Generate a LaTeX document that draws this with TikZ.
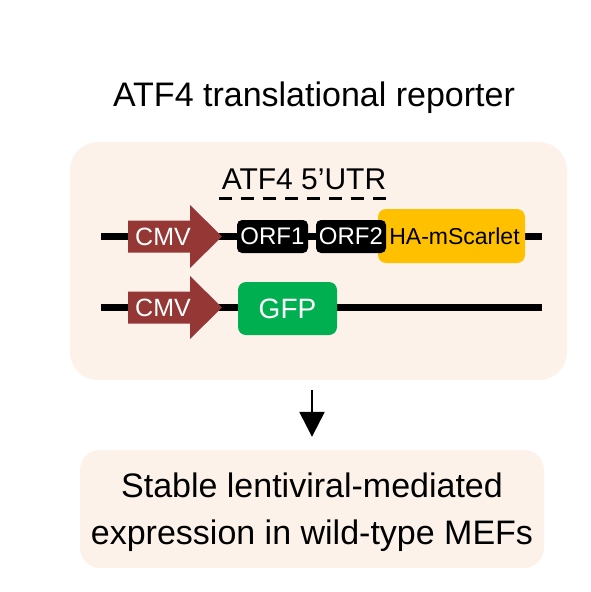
\documentclass[tikz,border=0pt]{standalone}
\usepackage{fontspec}
\setmainfont{Liberation Sans}
\usetikzlibrary{positioning, arrows.meta}
\definecolor{panelbg}{RGB}{252,242,234}
\definecolor{cmvred}{RGB}{149,55,53}
\definecolor{orfblack}{RGB}{0,0,0}
\definecolor{scarlet}{RGB}{255,192,0}
\definecolor{gfpgreen}{RGB}{0,176,80}
\tikzset{>=latex}
\tikzset{
  panel/.style={fill=panelbg, draw=none, rounded corners=28pt},
  dna/.style={line width=6.5pt},
  promoter/.style={fill=cmvred, draw=none},
  orfbox/.style={fill=orfblack, text=white, rounded corners=5pt, inner sep=0pt,
    minimum height=33pt, font=\fontsize{24}{28}\selectfont},
  genebox/.style={rounded corners=8pt, inner sep=0pt, minimum height=54pt}
}

\begin{document}
\begin{tikzpicture}[x=1pt, y=-1pt]
		\useasboundingbox (0,0) rectangle (591,592);
		% Title
		\node[font=\fontsize{34}{40}\selectfont] (title) at (314,98) {ATF4 translational reporter};
		% Panels
		\node[panel, minimum width=497pt, minimum height=238pt] (reporter) at (318.5,261) {};
		\node[panel, rounded corners=20pt, minimum width=464pt, minimum height=118pt] (mefs) at (312,509) {};
		% UTR label
		\node[font=\fontsize{30}{34}\selectfont] (utr) at (304,179) {ATF4 5’UTR};
		\coordinate (utrs) at (219,198);
		\coordinate (utre) at (386,198);
		\draw[line width=3pt, dash pattern=on 13pt off 9pt] (utrs) -- (utre);
		% DNA lines
		\coordinate (l1s) at (101,236.5);
		\coordinate (l1e) at (542,236.5);
		\coordinate (l2s) at (101,307.5);
		\coordinate (l2e) at (542,307.5);
		\draw[dna] (l1s) -- (l1e);
		\draw[dna] (l2s) -- (l2e);
		% CMV promoters
		\fill[promoter] plot coordinates
			{(128,220.5) (190,220.5) (190,205) (222,236.5) (190,268) (190,252.5) (128,252.5)} -- cycle;
		\fill[promoter] plot coordinates
			{(128,291.5) (190,291.5) (190,276) (222,307.5) (190,339) (190,323.5) (128,323.5)} -- cycle;
		\node[text=white, font=\fontsize{25}{29}\selectfont] (cmv1) at (163,236.5) {CMV};
		\node[text=white, font=\fontsize{25}{29}\selectfont] (cmv2) at (163,307.5) {CMV};
		% Reporter ORFs
		\node[genebox, fill=scarlet, minimum width=147pt, font=\fontsize{23}{28}\selectfont] (scar) at (451.5,236) {\hspace*{6pt}HA-mScarlet};
		\node[orfbox, minimum width=71pt] (orf1) at (272.5,236.5) {ORF1};
		\node[orfbox, minimum width=70pt] (orf2) at (351,236.5) {ORF2};
		% GFP
		\node[genebox, fill=gfpgreen, text=white, minimum width=99pt, minimum height=53pt, font=\fontsize{28}{32}\selectfont] (gfp) at (287.5,308.5) {GFP};
		% Result
		\node[font=\fontsize{34}{47}\selectfont, align=center] (mefstext) at (312,512) {Stable lentiviral-mediated\\expression in wild-type MEFs};
		\draw[line width=2.5pt, -{Triangle[width=25pt, length=25pt]}, shorten <=10pt, shorten >=13pt] (reporter.south -| mefs.north) -- (mefs.north);
	\end{tikzpicture}
\end{document}
